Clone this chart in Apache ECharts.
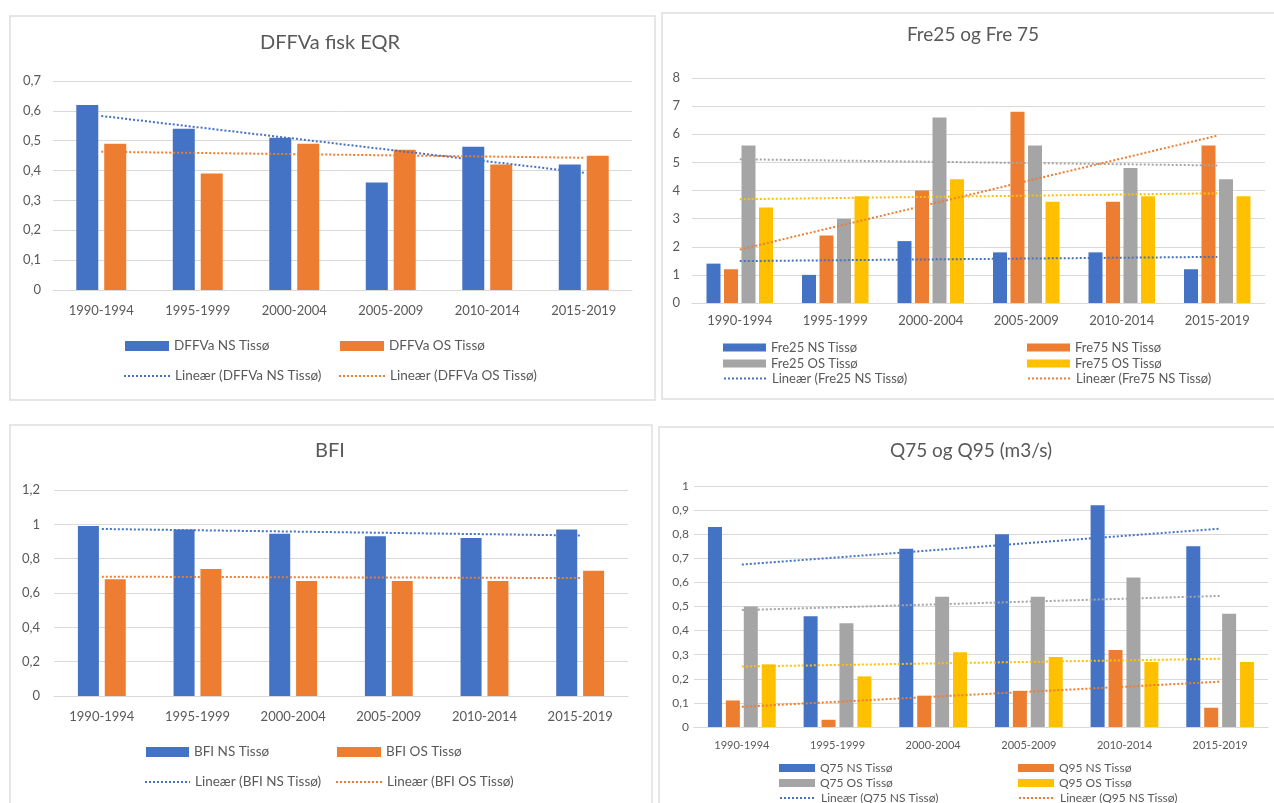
<!DOCTYPE html>
<html>
<head>
<meta charset="utf-8">
<script src="https://cdn.jsdelivr.net/npm/echarts@6/dist/echarts.min.js"></script>
<style>
  html, body { margin: 0; padding: 0; background: #fff; }
  #main { width: 1274px; height: 803px; }
</style>
</head>
<body>
<div id="main"></div>
<script>
// categories (shared by all four panels)
const cats = ['1990-1994', '1995-1999', '2000-2004', '2005-2009', '2010-2014', '2015-2019'];

// DFFVa fisk EQR
const dffNS = [0.62, 0.54, 0.51, 0.36, 0.48, 0.42];
const dffOS = [0.49, 0.39, 0.49, 0.47, 0.42, 0.45];
const dffTrendNS = [0.583, 0.393];   // trend start / end
const dffTrendOS = [0.463, 0.443];

// Fre25 og Fre 75
const fre25NS = [1.4, 1.0, 2.2, 1.8, 1.8, 1.2];
const fre75NS = [1.2, 2.4, 4.0, 6.8, 3.6, 5.6];
const fre25OS = [5.6, 3.0, 6.6, 5.6, 4.8, 4.4];
const fre75OS = [3.4, 3.8, 4.4, 3.6, 3.8, 3.8];
const fre25NSTrend = [1.49, 1.64];
const fre75NSTrend = [1.9, 5.95];
const fre25OSTrend = [5.11, 4.89];
const fre75OSTrend = [3.69, 3.9];

// BFI
const bfiNS = [0.99, 0.97, 0.945, 0.93, 0.92, 0.97];
const bfiOS = [0.68, 0.74, 0.67, 0.67, 0.67, 0.73];
const bfiTrendNS = [0.973, 0.935];
const bfiTrendOS = [0.695, 0.687];

// Q75 og Q95 (m3/s)
const q75NS = [0.83, 0.46, 0.74, 0.80, 0.92, 0.75];
const q95NS = [0.11, 0.03, 0.13, 0.15, 0.32, 0.08];
const q75OS = [0.50, 0.43, 0.54, 0.54, 0.62, 0.47];
const q95OS = [0.26, 0.21, 0.31, 0.29, 0.27, 0.27];
const q75NSTrend = [0.674, 0.823];
const q95NSTrend = [0.084, 0.188];
const q75OSTrend = [0.485, 0.544];
const q95OSTrend = [0.251, 0.283];

// y axis scales [min, max, step]
const dffScale = [0, 0.7, 0.1];
const freScale = [0, 8, 1];
const bfiScale = [0, 1.2, 0.2];
const qScale = [0, 1, 0.1];

const BLUE = '#4472C4', ORANGE = '#ED7D31', GRAY = '#A5A5A5', YELLOW = '#FFC000';
const TXT = '#595959', GRID = '#d9d9d9';
const FONT = 'Lato, "Open Sans", sans-serif';

const chart = echarts.init(document.getElementById('main'), null, { renderer: 'canvas' });

function comma(v) {
  return String(v).replace('.', ',');
}

function xAxis(idx, fontSize, margin) {
  return {
    type: 'category', gridIndex: idx, data: cats,
    axisTick: { show: false },
    axisLine: { lineStyle: { color: GRID, width: 1 } },
    axisLabel: { color: TXT, fontSize: fontSize, fontFamily: FONT, margin: margin }
  };
}

function yAxis(idx, scale, fontSize, margin) {
  return {
    type: 'value', gridIndex: idx, min: scale[0], max: scale[1], interval: scale[2],
    axisLine: { show: false }, axisTick: { show: false },
    splitLine: { lineStyle: { color: GRID, width: 1 } },
    axisLabel: { color: TXT, fontSize: fontSize, fontFamily: FONT, margin: margin, formatter: comma }
  };
}

function bar(name, data, idx, color, w, gap) {
  return {
    name: name, type: 'bar', xAxisIndex: idx, yAxisIndex: idx, data: data,
    barWidth: w, barGap: gap, itemStyle: { color: color }, silent: true
  };
}

function trend(name, ends, idx, color) {
  return {
    name: name, type: 'line', xAxisIndex: idx, yAxisIndex: idx,
    data: [[cats[0], ends[0]], [cats[cats.length - 1], ends[1]]],
    symbol: 'none', silent: true, z: 5,
    itemStyle: { color: color },
    lineStyle: { color: color, width: 2, type: [2, 2] }
  };
}

function leg(name, left, top, w, h, fontSize, isBar) {
  const l = {
    data: [isBar ? { name: name, icon: 'rect' } : name],
    left: left, top: top, padding: 0, itemWidth: w, itemHeight: h,
    selectedMode: false,
    textStyle: { color: TXT, fontSize: fontSize, fontFamily: FONT }
  };
  if (!isBar) {
    // hide the marker dot, keep the dotted line
    l.itemStyle = { opacity: 0 };
    l.lineStyle = { opacity: 1, width: 2 };
  }
  return l;
}

function title(text, x, y, size) {
  return {
    text: text, left: x, top: y, textAlign: 'center', padding: 0,
    textStyle: { color: TXT, fontSize: size, fontWeight: 'normal', fontFamily: FONT }
  };
}

function frame(x, y, w, h) {
  return {
    type: 'rect', shape: { x: x, y: y, width: w, height: h },
    style: { fill: 'none', stroke: '#dedede', lineWidth: 1.5 }, silent: true
  };
}

const option = {
  backgroundColor: '#ffffff',
  animation: false,
  graphic: [
    frame(10, 16, 645, 384),
    frame(662, 13, 640, 386),
    frame(10, 425, 642, 420),
    frame(659, 427, 640, 420)
  ],
  title: [
    title('DFFVa fisk EQR', 330, 33, 20),
    title('Fre25 og Fre 75', 973, 25, 19),
    title('BFI', 330, 441, 20),
    title('Q75 og Q95 (m3/s)', 971, 441, 19)
  ],
  grid: [
    { left: 53, top: 81, width: 579, height: 209 },
    { left: 692, top: 78, width: 573, height: 225 },
    { left: 54, top: 490, width: 574, height: 206 },
    { left: 694, top: 486, width: 574, height: 241 }
  ],
  xAxis: [xAxis(0, 13, 14), xAxis(1, 13, 11), xAxis(2, 13, 14), xAxis(3, 11, 13)],
  yAxis: [yAxis(0, dffScale, 13, 12), yAxis(1, freScale, 13, 12), yAxis(2, bfiScale, 13, 14), yAxis(3, qScale, 12, 5)],
  legend: [
    leg('DFFVa NS Tissø', 125, 339, 44, 10, 13.5, true),
    leg('DFFVa OS Tissø', 340, 339, 44, 10, 13.5, true),
    leg('Lineær (DFFVa NS Tissø)', 123, 369, 46, 10, 13.5, false),
    leg('Lineær (DFFVa OS Tissø)', 338, 369, 46, 10, 13.5, false),

    leg('Fre25 NS Tissø', 723, 341, 43, 8, 13, true),
    leg('Fre75 NS Tissø', 1027, 341, 43, 8, 13, true),
    leg('Fre25 OS Tissø', 723, 357, 43, 8, 13, true),
    leg('Fre75 OS Tissø', 1027, 357, 43, 8, 13, true),
    leg('Lineær (Fre25 NS Tissø)', 723, 372, 43, 8, 13, false),
    leg('Lineær (Fre75 NS Tissø)', 1027, 372, 43, 8, 13, false),

    leg('BFI NS Tissø', 146, 745, 43, 10, 13.5, true),
    leg('BFI OS Tissø', 337, 745, 44, 10, 13.5, true),
    leg('Lineær (BFI NS Tissø)', 144, 775, 45, 10, 13.5, false),
    leg('Lineær (BFI OS Tissø)', 335, 775, 46, 10, 13.5, false),

    leg('Q75 NS Tissø', 779, 762, 36, 8, 12, true),
    leg('Q95 NS Tissø', 1018, 762, 36, 8, 12, true),
    leg('Q75 OS Tissø', 779, 777, 36, 8, 12, true),
    leg('Q95 OS Tissø', 1018, 777, 36, 8, 12, true),
    leg('Lineær (Q75 NS Tissø)', 779, 792, 36, 8, 12, false),
    leg('Lineær (Q95 NS Tissø)', 1018, 792, 36, 8, 12, false)
  ],
  series: [
    bar('DFFVa NS Tissø', dffNS, 0, BLUE, 22, '27%'),
    bar('DFFVa OS Tissø', dffOS, 0, ORANGE, 22, '27%'),
    trend('Lineær (DFFVa NS Tissø)', dffTrendNS, 0, BLUE),
    trend('Lineær (DFFVa OS Tissø)', dffTrendOS, 0, ORANGE),

    bar('Fre25 NS Tissø', fre25NS, 1, BLUE, 14, '25%'),
    bar('Fre75 NS Tissø', fre75NS, 1, ORANGE, 14, '25%'),
    bar('Fre25 OS Tissø', fre25OS, 1, GRAY, 14, '25%'),
    bar('Fre75 OS Tissø', fre75OS, 1, YELLOW, 14, '25%'),
    trend('Lineær (Fre25 NS Tissø)', fre25NSTrend, 1, BLUE),
    trend('Lineær (Fre75 NS Tissø)', fre75NSTrend, 1, ORANGE),
    trend('Lineær (Fre25 OS Tissø)', fre25OSTrend, 1, GRAY),
    trend('Lineær (Fre75 OS Tissø)', fre75OSTrend, 1, YELLOW),

    bar('BFI NS Tissø', bfiNS, 2, BLUE, 21, '28%'),
    bar('BFI OS Tissø', bfiOS, 2, ORANGE, 21, '28%'),
    trend('Lineær (BFI NS Tissø)', bfiTrendNS, 2, BLUE),
    trend('Lineær (BFI OS Tissø)', bfiTrendOS, 2, ORANGE),

    bar('Q75 NS Tissø', q75NS, 3, BLUE, 14, '28%'),
    bar('Q95 NS Tissø', q95NS, 3, ORANGE, 14, '28%'),
    bar('Q75 OS Tissø', q75OS, 3, GRAY, 14, '28%'),
    bar('Q95 OS Tissø', q95OS, 3, YELLOW, 14, '28%'),
    trend('Lineær (Q75 NS Tissø)', q75NSTrend, 3, BLUE),
    trend('Lineær (Q95 NS Tissø)', q95NSTrend, 3, ORANGE),
    trend('Lineær (Q75 OS Tissø)', q75OSTrend, 3, GRAY),
    trend('Lineær (Q95 OS Tissø)', q95OSTrend, 3, YELLOW)
  ]
};

chart.setOption(option);
</script>
</body>
</html>
